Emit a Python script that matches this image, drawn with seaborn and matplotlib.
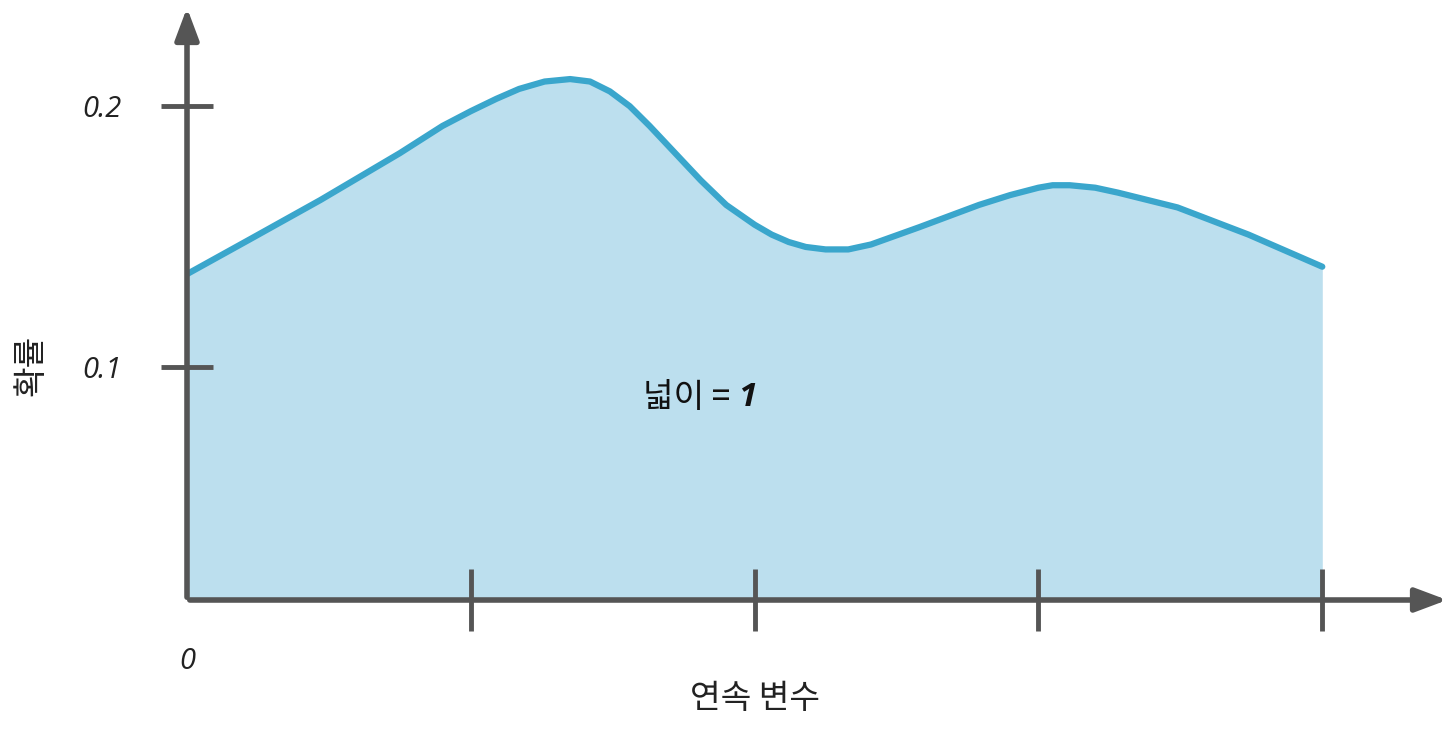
import matplotlib
matplotlib.use("Agg")
import matplotlib.pyplot as plt
import seaborn as sns
import pandas as pd

sns.set_theme(style="white")
plt.rcParams['font.family'] = ['Noto Sans CJK KR', 'DejaVu Sans']

x_vals = [0, 0.22, 0.47, 0.75, 0.9, 1.0, 1.09, 1.17, 1.26, 1.35, 1.42, 1.49, 1.56, 1.63, 1.72, 1.81, 1.9, 2.0, 2.06, 2.12, 2.18, 2.25, 2.33, 2.41, 2.58, 2.79, 2.9, 3.0, 3.05, 3.11, 3.2, 3.28, 3.49, 3.74, 4.0]
y_vals = [0.132, 0.146, 0.162, 0.181, 0.192, 0.198, 0.203, 0.207, 0.210, 0.211, 0.210, 0.206, 0.200, 0.192, 0.181, 0.170, 0.160, 0.152, 0.148, 0.145, 0.143, 0.142, 0.142, 0.144, 0.151, 0.160, 0.164, 0.167, 0.168, 0.168, 0.167, 0.165, 0.159, 0.148, 0.135]
y_ticks = [0.0945, 0.2]
y_labels = ["0.1", "0.2"]
x_ticks = [1, 2, 3, 4]

df = pd.DataFrame({"x": x_vals, "y": y_vals})
fig = plt.figure(figsize=(14.56, 7.36), dpi=100)
ax = fig.add_axes([187/1456, 136/736, 1263/1456, 595/736])
ax.set_axisbelow(False)
ax.fill_between(df.x, df.y, 0, color="#bcdfee", lw=0, zorder=0)
sns.lineplot(data=df, x="x", y="y", ax=ax, color="#3aa6cc", lw=4.5, zorder=2)
ax.set_xlim(0, 4.45)
ax.set_ylim(0, 0.241)
for s in ax.spines.values():
    s.set_visible(False)
axc = "#555555"
ax.annotate("", xy=(4.45, 0), xytext=(0, 0), annotation_clip=False,
            arrowprops=dict(arrowstyle="-|>,head_length=1.6,head_width=0.6", color=axc, lw=4))
ax.annotate("", xy=(0, 0.241), xytext=(0, 0), annotation_clip=False,
            arrowprops=dict(arrowstyle="-|>,head_length=1.6,head_width=0.6", color=axc, lw=4))
ax.set_xticks(x_ticks)
ax.set_xticklabels([])
ax.set_yticks(y_ticks)
ax.set_yticklabels(y_labels, fontsize=21, style="italic", color="#222", family="Open Sans")
ax.tick_params(axis="x", direction="inout", length=44, width=3.5, color=axc, bottom=True)
ax.tick_params(axis="y", direction="inout", length=38, width=3.5, color=axc, left=True, pad=28)
ax.text(0, -0.025, "0", fontsize=21, style="italic", ha="center", va="center", color="#222", family="Open Sans")
ax.text(2.0, -0.040, "연속 변수", fontsize=24, ha="center", va="center", color="#222")
ax.text(-0.55, 0.095, "확률", fontsize=24, rotation=90, ha="center", va="center", color="#222")
ax.text(1.94, 0.082, "넓이 = ", fontsize=24, ha="right", va="center", color="#111")
ax.text(1.94, 0.082, "1", fontsize=24, ha="left", va="center", style="italic", weight="bold", color="#111", family="Open Sans")
ax.set_xlabel("")
ax.set_ylabel("")
fig.savefig("out.png", dpi=100)
